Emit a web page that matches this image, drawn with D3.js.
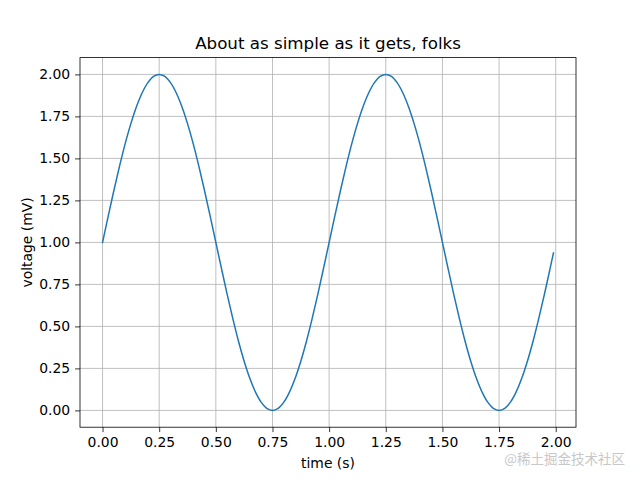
<!DOCTYPE html>
<html><head><meta charset="utf-8">
<script src="https://cdn.jsdelivr.net/npm/d3@7"></script>
<style>body{margin:0;background:#fff}svg{display:block}</style>
</head><body>
<svg id="c" width="640" height="480"></svg>
<script>
const times = [0,0.025,0.05,0.075,0.10,0.125,0.15,0.175,0.20,0.225,0.25,0.275,0.30,0.325,0.35,0.375,0.40,0.425,0.45,0.475,
  0.50,0.525,0.55,0.575,0.60,0.625,0.65,0.675,0.70,0.725,0.75,0.775,0.80,0.825,0.85,0.875,0.90,0.925,0.95,0.975,
  1.00,1.025,1.05,1.075,1.10,1.125,1.15,1.175,1.20,1.225,1.25,1.275,1.30,1.325,1.35,1.375,1.40,1.425,1.45,1.475,
  1.50,1.525,1.55,1.575,1.60,1.625,1.65,1.675,1.70,1.725,1.75,1.775,1.80,1.825,1.85,1.875,1.90,1.925,1.95,1.975,1.99];
const voltage = [1.000,1.156,1.309,1.454,1.588,1.707,1.809,1.891,1.951,1.988,2.000,1.988,1.951,1.891,1.809,1.707,1.588,1.454,1.309,1.156,
  1.000,0.844,0.691,0.546,0.412,0.293,0.191,0.109,0.049,0.012,0.000,0.012,0.049,0.109,0.191,0.293,0.412,0.546,0.691,0.844,
  1.000,1.156,1.309,1.454,1.588,1.707,1.809,1.891,1.951,1.988,2.000,1.988,1.951,1.891,1.809,1.707,1.588,1.454,1.309,1.156,
  1.000,0.844,0.691,0.546,0.412,0.293,0.191,0.109,0.049,0.012,0.000,0.012,0.049,0.109,0.191,0.293,0.412,0.546,0.691,0.844,0.937];
const xTicks = [0,0.25,0.5,0.75,1.0,1.25,1.5,1.75,2.0];
const yTicks = [0,0.25,0.5,0.75,1.0,1.25,1.5,1.75,2.0];
const title = "About as simple as it gets, folks";
const xLabel = "time (s)";
const yLabel = "voltage (mV)";

const svg = d3.select("#c");
const L=80, R=576, T=57.6, B=427.2;
const font = "DejaVu Sans, sans-serif";
const x = d3.scaleLinear().domain([-0.0995, 2.0895]).range([L,R]);
const y = d3.scaleLinear().domain([-0.1, 2.1]).range([B,T]);

// grid
svg.append("g").selectAll("line").data(xTicks).join("line")
  .attr("x1",d=>x(d)).attr("x2",d=>x(d)).attr("y1",T).attr("y2",B)
  .attr("stroke","#b0b0b0").attr("stroke-width",0.8);
svg.append("g").selectAll("line").data(yTicks).join("line")
  .attr("x1",L).attr("x2",R).attr("y1",d=>y(d)).attr("y2",d=>y(d))
  .attr("stroke","#b0b0b0").attr("stroke-width",0.8);

// line
const data = times.map((t,i)=>[t,voltage[i]]);
svg.append("path").datum(data)
  .attr("d", d3.line().x(d=>x(d[0])).y(d=>y(d[1])).curve(d3.curveCatmullRom.alpha(0.5)))
  .attr("fill","none").attr("stroke","#1f77b4").attr("stroke-width",1.5).attr("stroke-linecap","square");

// axes
const xAxis = d3.axisBottom(x).tickValues(xTicks).tickFormat(d3.format(".2f")).tickSizeInner(4.9).tickSizeOuter(0).tickPadding(4.9);
const yAxis = d3.axisLeft(y).tickValues(yTicks).tickFormat(d3.format(".2f")).tickSizeInner(4.9).tickSizeOuter(0).tickPadding(4.9);
const gx = svg.append("g").attr("transform",`translate(0,${B})`).call(xAxis);
const gy = svg.append("g").attr("transform",`translate(${L},0)`).call(yAxis);
[gx,gy].forEach(g=>{
  g.select(".domain").remove();
  g.selectAll("line").attr("stroke","#000").attr("stroke-width",0.8);
  g.selectAll("text").attr("font-family",font).attr("font-size","13.9px").attr("fill","#000");
});

// frame
svg.append("rect").attr("x",L).attr("y",T).attr("width",R-L).attr("height",B-T)
  .attr("fill","none").attr("stroke","#000").attr("stroke-width",0.8);

// labels
svg.append("text").attr("x",(L+R)/2).attr("y",T-9).attr("text-anchor","middle")
  .attr("font-family",font).attr("font-size","16.7px").text(title);
svg.append("text").attr("x",(L+R)/2).attr("y",468).attr("text-anchor","middle")
  .attr("font-family",font).attr("font-size","13.9px").text(xLabel);
svg.append("text").attr("transform",`translate(32,${(T+B)/2}) rotate(-90)`).attr("text-anchor","middle")
  .attr("font-family",font).attr("font-size","13.9px").text(yLabel);

// watermark
svg.append("text").attr("x",625).attr("y",464).attr("text-anchor","end")
  .attr("font-family","Noto Sans CJK SC, sans-serif").attr("font-size","13.5px").attr("fill","#c8c8c8").text("@稀土掘金技术社区");
</script>
</body></html>
